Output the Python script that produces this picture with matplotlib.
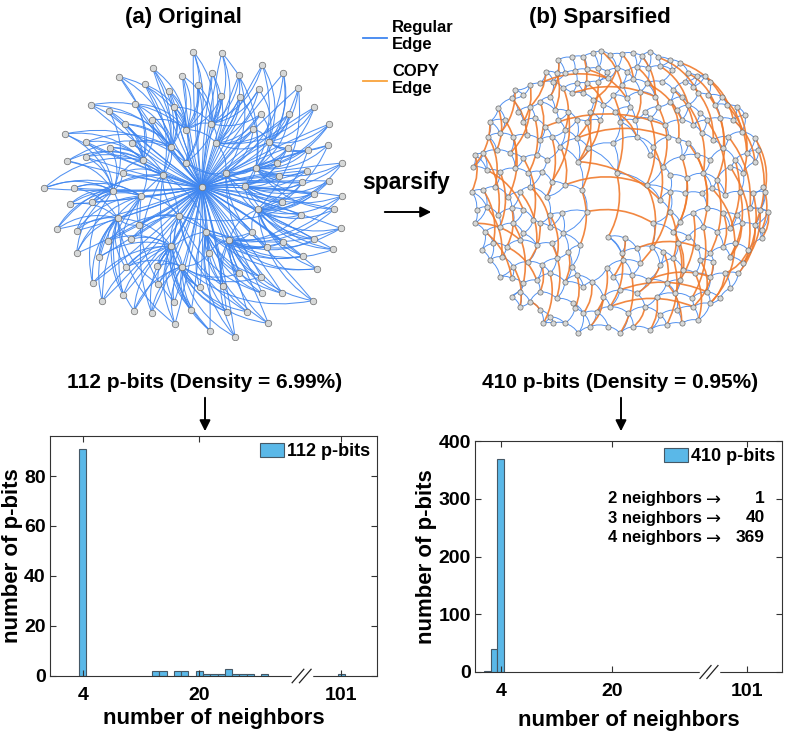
import numpy as np
import matplotlib
matplotlib.use("Agg")
import matplotlib.pyplot as plt
from matplotlib.path import Path
from matplotlib.patches import PathPatch, FancyArrowPatch
from matplotlib.collections import PatchCollection
from matplotlib.lines import Line2D
import matplotlib.transforms as mtransforms
import logging
logging.getLogger('matplotlib.font_manager').setLevel(logging.ERROR)

plt.rcParams['font.family'] = ['Liberation Sans', 'DejaVu Sans']
plt.rcParams['font.weight'] = 'bold'
plt.rcParams['axes.labelweight'] = 'bold'
TICK_FAMILY = ['Liberation Sans Narrow', 'Liberation Sans', 'DejaVu Sans']

# ---------------- histogram data ----------------
HIST_A_NEIGHBORS = [4, 14, 15, 17, 18, 20, 21, 22, 23, 24, 25, 26, 27, 29, 101]
HIST_A_COUNTS = [91, 2, 2, 2, 2, 2, 1, 1, 1, 3, 1, 1, 1, 1, 1]
HIST_B_NEIGHBORS = [2, 3, 4]
HIST_B_COUNTS = [1, 40, 369]
X_TICK_VALUES = [4, 20, 101]
X_TICK_LABELS = ['4', '20', '101']
Y_TICKS_A = [0, 20, 40, 60, 80]
Y_TICKS_B = [0, 100, 200, 300, 400]
PBITS_A = 112
PBITS_B = 410
DENSITY_A = 6.99
DENSITY_B = 0.95

# ---------------- graph (a) data (positions) ----------------
HUB_A = (515, 562)
MID_A = [(469, 389), (544, 371), (559, 430), (424, 442), (399, 525), (340, 480),
         (249, 573), (334, 588), (263, 655), (423, 738), (457, 800), (447, 648),
         (528, 695), (598, 720), (683, 628), (677, 504), (645, 557), (587, 518),
         (468, 488), (716, 426)]
OUTER_A = [(490, 155), (575, 158), (697, 195), (760, 220), (805, 263), (853, 322), (898, 372), (893, 436), (937, 489), (898, 543),
           (935, 588), (912, 628), (932, 685), (910, 748), (860, 806), (848, 902), (757, 880), (715, 970), (697, 880), (652, 935),
           (590, 935), (615, 1010), (540, 992), (484, 930), (435, 972), (433, 907), (365, 938), (312, 932), (280, 885), (217, 903),
           (188, 850), (140, 760), (80, 688), (42, 565), (112, 483), (105, 402), (182, 315), (268, 230), (368, 205), (457, 227),
           (546, 218), (627, 225), (686, 268), (630, 290), (573, 287), (503, 255), (417, 272), (344, 253), (314, 312), (237, 332),
           (285, 372), (367, 360), (432, 322), (306, 430), (241, 443), (169, 426), (167, 471), (131, 564), (121, 612), (186, 606),
           (278, 518), (140, 692), (234, 722), (207, 772), (287, 802), (303, 718), (328, 675), (385, 853), (381, 799), (537, 760),
           (510, 862), (580, 858), (627, 820), (667, 695), (757, 607), (812, 644), (760, 727), (710, 740), (694, 830), (818, 768),
           (853, 718), (851, 581), (817, 547), (748, 527), (773, 443), (833, 450), (830, 512), (777, 343), (692, 342), (670, 387),
           (742, 490)]
OUTER_LINKS_A = ["ABS", "BCP", "TBQ", "TPR", "TRO", "TPC", "PTR", "POT", "QPO", "OQL",
                 "OQN", "ONP", "ONL", "NOQ", "NMO", "NOK", "NMR", "MNK", "NML", "KML",
                 "MKJ", "KNM", "KJE", "KJL", "JKI", "JKH", "JKE", "JIK", "IJH", "IJE",
                 "IJG", "IGH", "GIE", "GFH", "FGD", "FGS", "FAD", "ADF", "ADE", "ABD",
                 "BAC", "BCR", "TBC", "BCP", "BAS", "ABS", "ADS", "DAE", "FDA", "FDG",
                 "FDS", "DAF", "ADB", "FDL", "FGE", "FGD", "GFE", "GHI", "GIH", "GHE",
                 "EFG", "IGH", "IJL", "IJH", "JIK", "IJL", "HIL", "JKI", "JKM", "MKN",
                 "KMJ", "MNL", "NMK", "NOM", "OQR", "ONQ", "NOM", "NMR", "NMK", "ONM",
                 "ONR", "QOP", "QPO", "PQR", "TPQ", "TPO", "PQS", "TPC", "TCB", "TCR",
                 "PTQ"]
MID_LINKS_A = ["AB", "AC", "BC", "AS", "DS", "DE", "EF", "FH", "GH", "GI", "HI", "IJ", "JK", "JL",
               "KL", "LM", "MN", "NO", "OQ", "PQ", "PR", "RS", "CR", "TC", "TP", "LE", "HL", "EM"]

# ---------------- graph (b) data (positions, by rows) ----------------
NODES_B = [
    [(355, 60), (395, 52), (430, 50), (460, 40), (483, 33), (510, 45), (545, 42), (580, 40), (605, 48), (630, 35), (655, 52), (690, 60), (720, 68)],
    [(318, 95), (350, 100), (375, 100), (405, 92), (440, 88), (475, 85), (500, 95), (530, 85), (560, 95), (590, 80), (625, 85), (660, 78), (695, 90), (745, 100), (770, 108), (795, 108)],
    [(270, 135), (300, 130), (340, 125), (370, 145), (410, 130), (440, 130), (475, 125), (505, 115), (545, 135), (580, 118), (620, 130), (665, 125), (700, 150), (735, 125), (760, 140), (810, 125)],
    [(225, 150), (250, 165), (300, 185), (330, 170), (395, 160), (430, 160), (460, 180), (520, 165), (560, 175), (600, 155), (645, 170), (690, 185), (725, 170), (775, 160), (805, 165), (845, 170)],
    [(175, 205), (215, 175), (235, 215), (270, 200), (345, 210), (385, 215), (410, 240), (450, 215), (490, 195), (525, 215), (570, 200), (615, 215), (655, 200), (710, 210), (745, 195), (780, 220), (825, 195), (860, 195), (890, 200)],
    [(150, 245), (195, 240), (250, 245), (285, 235), (315, 260), (355, 240), (375, 270), (440, 245), (480, 240), (540, 245), (585, 240), (630, 235), (675, 255), (725, 240), (760, 255), (800, 240), (840, 235), (880, 240), (915, 225)],
    [(145, 290), (180, 280), (220, 290), (260, 285), (300, 300), (335, 290), (360, 320), (410, 295), (445, 325), (520, 310), (590, 290), (640, 320), (685, 290), (715, 300), (745, 310), (785, 280), (820, 300), (865, 290), (905, 275), (945, 295)],
    [(105, 345), (130, 340), (170, 330), (210, 340), (250, 355), (290, 345), (320, 360), (415, 365), (530, 400), (630, 345), (670, 380), (725, 350), (770, 345), (810, 360), (850, 325), (885, 360), (920, 340), (955, 330)],
    [(100, 380), (140, 390), (180, 395), (225, 385), (265, 400), (305, 395), (335, 425), (375, 435), (620, 435), (690, 405), (740, 415), (790, 400), (830, 420), (870, 380), (910, 400), (945, 365), (970, 440)],
    [(95, 455), (130, 450), (165, 440), (205, 470), (240, 455), (270, 440), (320, 470), (425, 450), (660, 480), (690, 455), (735, 460), (785, 460), (815, 445), (855, 465), (900, 455), (940, 460), (975, 455)],
    [(110, 510), (140, 500), (175, 525), (215, 505), (250, 510), (280, 540), (330, 525), (365, 520), (440, 515), (690, 515), (720, 545), (760, 520), (800, 505), (850, 520), (890, 525), (930, 505), (960, 510), (985, 515)],
    [(105, 550), (135, 575), (180, 560), (220, 550), (250, 580), (300, 550), (330, 560), (370, 580), (505, 590), (555, 595), (640, 550), (700, 575), (745, 590), (790, 560), (830, 575), (870, 565), (905, 550), (945, 555), (965, 570)],
    [(125, 630), (160, 610), (200, 620), (240, 600), (290, 615), (335, 610), (385, 635), (420, 615), (545, 640), (590, 625), (635, 620), (670, 635), (715, 610), (770, 620), (810, 640), (850, 620), (885, 610), (925, 630), (965, 595)],
    [(150, 660), (185, 650), (220, 680), (265, 665), (305, 675), (350, 655), (395, 680), (500, 685), (550, 660), (600, 670), (660, 675), (700, 655), (730, 690), (780, 660), (820, 665), (870, 650), (910, 670)],
    [(180, 710), (215, 715), (250, 730), (290, 720), (330, 700), (375, 725), (410, 705), (430, 740), (455, 725), (520, 710), (575, 705), (625, 720), (680, 730), (720, 720), (765, 700), (810, 710), (855, 700), (895, 700)],
    [(215, 770), (240, 755), (270, 785), (300, 755), (350, 775), (400, 790), (490, 770), (540, 750), (590, 760), (650, 770), (705, 760), (755, 775), (800, 755), (840, 775), (870, 745)],
    [(240, 800), (300, 810), (330, 830), (405, 805), (430, 820), (470, 815), (510, 800), (565, 820), (615, 800), (660, 825), (710, 810), (760, 800), (810, 790)],
    [(310, 850), (340, 850), (375, 850), (415, 880), (450, 860), (505, 860), (540, 880), (580, 860), (630, 870), (680, 855), (725, 850), (775, 840)],
]
COPY_EDGES_B = ("0.2-3.5 0.6-2.9 1.1-4.4 1.4-3.8 1.9-4.12 0.10-3.13 1.13-4.16 2.3-5.6 2.6-6.7 2.10-5.13 "
                "2.14-6.16 3.2-6.4 3.7-7.8 3.11-6.13 3.14-7.14 4.5-8.6 4.9-6.10 4.12-7.10 4.17-7.16 5.3-8.4 "
                "5.8-7.7 5.11-8.8 5.15-9.13 6.2-9.3 6.6-8.7 6.11-9.8 6.17-10.15 7.4-10.5 7.8-11.8 7.11-10.10 "
                "7.15-11.15 8.2-11.2 8.8-12.10 8.12-12.14 8.16-11.18 9.4-12.4 9.7-12.7 9.9-13.9 9.14-13.15 10.1-13.1 "
                "10.6-13.5 10.11-14.13 10.16-13.16 11.3-14.2 11.9-14.9 11.13-15.11 11.17-14.17 12.5-15.4 12.8-16.6 12.12-15.10 "
                "12.16-16.12 13.2-16.0 13.7-16.5 13.11-17.9 13.14-16.11 14.4-17.0 14.10-17.6 14.14-17.11 15.6-17.4 15.9-17.8 "
                "5.4-5.12 6.7-6.12 8.7-8.8 7.7-9.8 4.3-7.3 2.1-2.7 3.4-3.10 10.8-11.10 12.9-12.13 14.11-14.15 "
                "15.7-15.12 16.6-16.11 11.1-14.1 9.1-12.1 7.1-10.2 8.13-12.17 9.15-13.16 10.17-12.18 4.0-7.2 5.1-8.3 "
                "6.0-9.2 8.1-10.4 9.5-11.6 11.0-12.3 12.2-14.3 13.4-15.3 14.6-16.3 5.17-8.15 6.19-9.16 10.13-12.15 "
                "11.11-13.12 12.11-14.12 13.10-15.8 14.16-16.12 "
                "0.0-3.3 0.4-2.8 0.8-3.10 0.12-3.15 1.0-4.3 1.7-3.6 1.11-4.14 1.15-5.17 2.0-5.2 2.5-4.8 "
                "2.12-5.14 3.0-6.1 3.9-5.10 3.15-6.18 4.1-6.3 4.7-7.7 4.14-8.11 4.18-8.14 5.0-8.0 5.7-9.7 "
                "5.16-8.12 6.5-9.6 6.14-10.12 7.0-9.0 7.12-11.13 7.17-11.17 8.10-11.11 9.12-12.16 10.3-12.2 10.9-13.11 "
                "11.5-13.3 11.16-13.15 12.6-14.5 12.17-14.16 13.13-15.12 14.8-16.4 14.12-17.10 15.2-16.1 16.8-17.7")
REGULAR_NEAREST_B = 3

BLUE = '#3f86f0'
ORANGE = '#f07a2c'
LEGEND_ORANGE = '#f9a23c'
BAR_COLOR = '#5ab8e8'
BAR_EDGE = '#455866'
NODE_FACE = '#d6d8d8'
NODE_EDGE = '#6a6a6a'

W, H = 790, 734
fig = plt.figure(figsize=(W / 100, H / 100), dpi=100)


def fx(x):
    return x / W


def fy(y):
    return 1 - y / H


def curved(ax, pts, edges, rad, color, lw, alpha, z):
    patches = []
    for i, j in edges:
        p0 = np.asarray(pts[i], float)
        p1 = np.asarray(pts[j], float)
        d = p1 - p0
        c = (p0 + p1) / 2 + rad * np.array([d[1], -d[0]])
        patches.append(PathPatch(Path([p0, c, p1], [Path.MOVETO, Path.CURVE3, Path.CURVE3])))
    pc = PatchCollection(patches, facecolor='none', edgecolor=color, linewidth=lw,
                         alpha=alpha, zorder=z)
    ax.add_collection(pc)


# ---------------- graph (a) ----------------
axg1 = fig.add_axes([fx(30), fy(340), 400 / W, 340 / H])
axg1.set_xlim(0, 1200)
axg1.set_ylim(1020, 0)
axg1.axis('off')
pts_a = [HUB_A] + MID_A + OUTER_A
letters = "ABCDEFGHIJKLMNOPQRST"
nmid = len(MID_A)
hub_edges = [(0, k) for k in range(1, len(pts_a))]
other_edges = []
for k, link in enumerate(OUTER_LINKS_A[:len(OUTER_A)]):
    for ch in link:
        other_edges.append((1 + nmid + k, 1 + letters.index(ch)))
for pair in MID_LINKS_A:
    other_edges.append((1 + letters.index(pair[0]), 1 + letters.index(pair[1])))
curved(axg1, pts_a, hub_edges, 0.04, BLUE, 0.75, 0.9, 1)
curved(axg1, pts_a, other_edges, 0.24, BLUE, 0.75, 0.9, 1)
pa = np.array(pts_a)
axg1.scatter(pa[:, 0], pa[:, 1], s=22, c=NODE_FACE, edgecolors=NODE_EDGE, linewidths=0.5, zorder=3)

# ---------------- graph (b) ----------------
axg2 = fig.add_axes([fx(440), fy(340), 350 / W, 300 / H])
axg2.set_xlim(0, 1050)
axg2.set_ylim(900, 0)
axg2.axis('off')
pts_b = []
index_b = {}
for r, row in enumerate(NODES_B):
    for c, p in enumerate(row):
        index_b[(r, c)] = len(pts_b)
        pts_b.append(p)
pb = np.array(pts_b, float)
dist = np.sqrt(((pb[:, None, :] - pb[None, :, :]) ** 2).sum(-1))
np.fill_diagonal(dist, np.inf)
reg = set()
for i in range(len(pb)):
    for j in np.argsort(dist[i])[:REGULAR_NEAREST_B]:
        reg.add((min(i, int(j)), max(i, int(j))))
copy_edges = []
for tok in COPY_EDGES_B.split():
    a, b = tok.split('-')
    ra, ca = map(int, a.split('.'))
    rb, cb = map(int, b.split('.'))
    if (ra, ca) in index_b and (rb, cb) in index_b:
        copy_edges.append((index_b[(ra, ca)], index_b[(rb, cb)]))
curved(axg2, pts_b, sorted(reg), 0.2, BLUE, 0.7, 0.9, 1)
curved(axg2, pts_b, copy_edges, 0.2, ORANGE, 1.2, 0.9, 2)
axg2.scatter(pb[:, 0], pb[:, 1], s=14, c=NODE_FACE, edgecolors=NODE_EDGE, linewidths=0.5, zorder=3)

# ---------------- figure texts ----------------
fig.text(fx(183), fy(17), '(a) Original', ha='center', va='center', fontsize=16)
fig.text(fx(600), fy(17), '(b) Sparsified', ha='center', va='center', fontsize=16)
fig.add_artist(Line2D([fx(363), fx(387)], [fy(37.5), fy(37.5)], color=BLUE, lw=1.3))
fig.add_artist(Line2D([fx(363), fx(387)], [fy(80.5), fy(80.5)], color=LEGEND_ORANGE, lw=1.3))
fig.text(fx(392), fy(36), 'Regular\nEdge', ha='left', va='center', fontsize=12, linespacing=1.2)
fig.text(fx(392), fy(80), 'COPY\nEdge', ha='left', va='center', fontsize=12, linespacing=1.2)
fig.text(fx(406), fy(183), 'sparsify', ha='center', va='center', fontsize=16.5)
fig.add_artist(FancyArrowPatch((fx(382), fy(212)), (fx(434), fy(212)), transform=fig.transFigure,
                               arrowstyle='-|>', mutation_scale=16, lw=1.4, color='black'))
fig.text(fx(205), fy(383), f'{PBITS_A} p-bits (Density = {DENSITY_A:.2f}%)', ha='center', va='center', fontsize=15)
fig.text(fx(620), fy(383), f'{PBITS_B} p-bits (Density = {DENSITY_B:.2f}%)', ha='center', va='center', fontsize=15)
for x in (205, 621):
    fig.add_artist(FancyArrowPatch((fx(x), fy(395)), (fx(x), fy(434)), transform=fig.transFigure,
                                   arrowstyle='-|>', mutation_scale=16, lw=1.4, color='black'))

# ---------------- histograms ----------------
BREAK_VALUE = 34
GAP = 61.5


def axpos(v):
    return v if v < BREAK_VALUE else v - GAP


def style_hist(ax, xlim, ylim, yticks, labelpad):
    ax.set_xlim(*xlim)
    ax.set_ylim(*ylim)
    ax.set_xticks([axpos(v) for v in X_TICK_VALUES])
    ax.set_xticklabels(X_TICK_LABELS)
    ax.set_yticks(yticks)
    ax.tick_params(direction='in', top=True, right=True, length=4, width=0.8,
                   color='#333333', labelsize=14)
    ax.tick_params(axis='x', pad=8)
    ax.tick_params(axis='y', pad=3)
    for lab in ax.get_xticklabels() + ax.get_yticklabels():
        lab.set_family(TICK_FAMILY)
    for s in ax.spines.values():
        s.set_linewidth(0.8)
        s.set_color('#333333')
    ax.set_xlabel('number of neighbors', fontsize=16, labelpad=labelpad)
    ax.set_ylabel('number of p-bits', fontsize=16, labelpad=1)
    trans = mtransforms.blended_transform_factory(ax.transData, ax.transAxes)
    bx = BREAK_VALUE
    ax.plot([bx - 1.1, bx + 1.3], [0, 0], color='white', lw=2.5, transform=trans,
            clip_on=False, zorder=5)
    for off in (-0.45, 0.55):
        ax.plot([bx + off - 0.8, bx + off + 0.8], [-0.028, 0.028], color='#222222', lw=0.9,
                transform=trans, clip_on=False, zorder=6)
    ax.legend(loc='upper right', frameon=False, fontsize=13, handlelength=1.3,
              handleheight=0.75, handletextpad=0.15, borderaxespad=0.25, borderpad=0.15)


ax1 = fig.add_axes([fx(50), fy(676), 327 / W, 240 / H])
ax1.bar([axpos(v) for v in HIST_A_NEIGHBORS], HIST_A_COUNTS, width=1.0, color=BAR_COLOR,
        edgecolor=BAR_EDGE, linewidth=0.8, label=f'{PBITS_A} p-bits')
style_hist(ax1, (-0.5, 44.4), (0, 96), Y_TICKS_A, 3)

ax2 = fig.add_axes([fx(475), fy(672), 307 / W, 231 / H])
ax2.bar([axpos(v) for v in HIST_B_NEIGHBORS], HIST_B_COUNTS, width=1.0, color=BAR_COLOR,
        edgecolor=BAR_EDGE, linewidth=0.8, label=f'{PBITS_B} p-bits')
style_hist(ax2, (0.25, 44.6), (0, 400), Y_TICKS_B, 7)

for k, n, y in zip(HIST_B_NEIGHBORS, HIST_B_COUNTS, (498.5, 518, 537.5)):
    fig.text(fx(608), fy(y), f'{k} neighbors', ha='left', va='center', fontsize=12)
    fig.text(fx(714), fy(y + 1), '\u2192', ha='center', va='center', fontsize=13,
             family='DejaVu Sans', weight='normal')
    fig.text(fx(765), fy(y), f'{n}', ha='right', va='center', fontsize=12.5)

fig.savefig('out.png', dpi=100)
